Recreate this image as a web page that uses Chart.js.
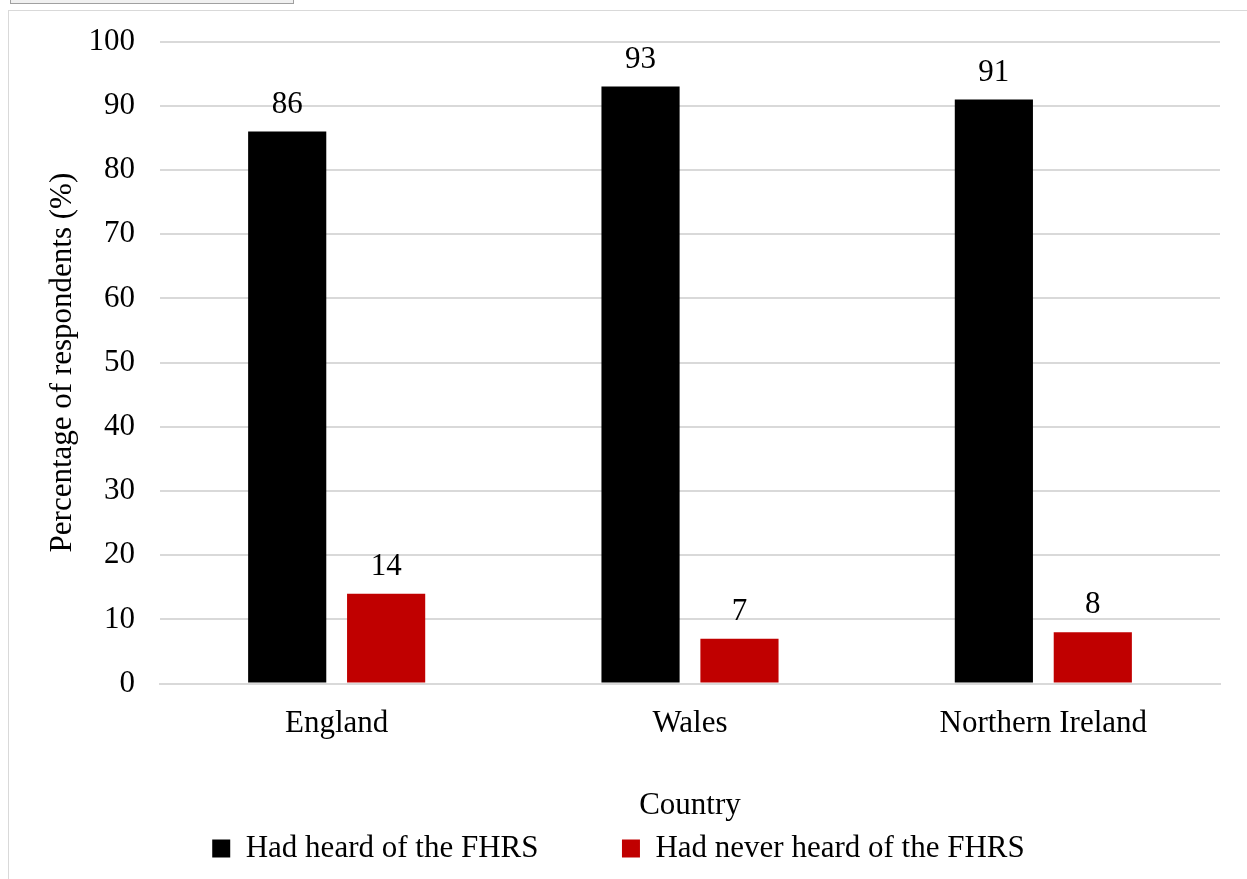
<!DOCTYPE html>
<html>
<head>
<meta charset="utf-8">
<script src="https://cdn.jsdelivr.net/npm/chart.js@4.4.1/dist/chart.umd.min.js"></script>
<style>
  html, body { margin: 0; padding: 0; background: #fff; }
  #tab { position: absolute; left: 10px; top: -3px; width: 282px; height: 5px; background: #f0f0f0; border: 1px solid #a0a0a0; }
  #frame { position: absolute; left: 8px; top: 10px; width: 1260px; height: 900px; border: 1px solid #d9d9d9; }
  #wrap { position: absolute; left: 9px; top: 11px; width: 1238px; height: 868px; }
</style>
</head>
<body>
<div id="tab"></div>
<div id="frame"></div>
<div id="wrap"><canvas id="chart"></canvas></div>
<script>
var countries = ['England', 'Wales', 'Northern Ireland'];
var heardLabel = 'Had heard of the FHRS';
var neverLabel = 'Had never heard of the FHRS';
var heardValues = [86, 93, 91];
var neverValues = [14, 7, 8];
var yTicks = [0, 10, 20, 30, 40, 50, 60, 70, 80, 90, 100];

var serif = "'Liberation Serif', 'Times New Roman', serif";
var fontSize = 31;

// подписи значений над столбцами
var valueLabels = {
    id: 'valueLabels',
    afterDatasetsDraw: function (chart) {
        var ctx = chart.ctx;
        ctx.save();
        ctx.font = fontSize + 'px ' + serif;
        ctx.fillStyle = '#000';
        ctx.textAlign = 'center';
        ctx.textBaseline = 'middle';
        chart.data.datasets.forEach(function (ds, i) {
            chart.getDatasetMeta(i).data.forEach(function (bar, j) {
                ctx.fillText(ds.data[j], bar.x, bar.y - 27);
            });
        });
        ctx.restore();
    }
};

var ctx = document.getElementById('chart');
var chart = new Chart(ctx, {
    type: 'bar',
    data: {
        labels: countries,
        datasets: [
            { label: heardLabel, data: heardValues, backgroundColor: '#000000' },
            { label: neverLabel, data: neverValues, backgroundColor: '#c00000' }
        ]
    },
    options: {
        responsive: true,
        maintainAspectRatio: false,
        animation: false,
        categoryPercentage: 0.56,
        barPercentage: 0.79,
        layout: { padding: { left: 8, right: 27, top: 0, bottom: 5 } },
        plugins: {
            tooltip: { enabled: false },
            legend: {
                position: 'bottom',
                labels: {
                    font: { family: serif, size: fontSize },
                    color: '#000',
                    boxWidth: 18,
                    boxHeight: 18,
                    padding: 6,
                    generateLabels: function (chart) {
                        var items = Chart.defaults.plugins.legend.labels.generateLabels(chart);
                        // широкий промежуток между элементами легенды
                        items.forEach(function (it, i) {
                            if (i < items.length - 1) it.text = it.text + '\u2003\u2003\u2002';
                        });
                        return items;
                    }
                }
            }
        },
        scales: {
            x: {
                grid: { display: false },
                border: { color: '#d9d9d9', width: 2 },
                ticks: { font: { family: serif, size: fontSize }, color: '#000', padding: 14 },
                title: {
                    display: true,
                    text: 'Country',
                    font: { family: serif, size: fontSize },
                    color: '#000',
                    padding: { top: 30, bottom: 3 }
                }
            },
            y: {
                min: 0,
                max: 100,
                afterBuildTicks: function (axis) {
                    axis.ticks = yTicks.map(function (v) { return { value: v }; });
                },
                afterFit: function (axis) { axis.width = 143; },
                grid: { color: '#d9d9d9', lineWidth: 2, drawTicks: true, tickLength: 13, tickColor: 'rgba(0,0,0,0)' },
                border: { display: false },
                ticks: { font: { family: serif, size: fontSize }, color: '#000', padding: 12 },
                title: {
                    display: true,
                    text: 'Percentage of respondents (%)',
                    font: { family: serif, size: fontSize },
                    color: '#000',
                    padding: { top: 27, bottom: 0 }
                }
            }
        }
    },
    plugins: [valueLabels]
});
</script>
</body>
</html>
